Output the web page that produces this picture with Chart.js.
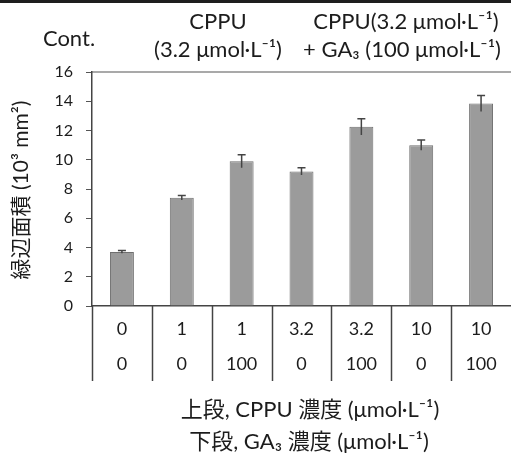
<!DOCTYPE html>
<html>
<head>
<meta charset="utf-8">
<script src="https://cdn.jsdelivr.net/npm/chart.js@4.4.1/dist/chart.umd.min.js"></script>
<style>
  html, body { margin: 0; padding: 0; background: #fff; }
  #wrap { width: 511px; height: 455px; }
</style>
</head>
<body>
<div id="wrap"><canvas id="myChart" width="511" height="455"></canvas></div>
<script>
// data
const cppuConc = ['0', '1', '1', '3.2', '3.2', '10', '10'];
const ga3Conc = ['0', '0', '100', '0', '100', '0', '100'];
const areaValues = [3.7, 7.4, 9.9, 9.2, 12.25, 11.0, 13.85];
const areaErrors = [0.1, 0.15, 0.45, 0.25, 0.55, 0.35, 0.55];
const yTicks = [0, 2, 4, 6, 8, 10, 12, 14, 16];

const FONT = "Lato, 'Noto Sans CJK JP', sans-serif";
const INK = '#1c1c1c';

// error bars, table lines and all the loose text
const extras = {
    id: 'extras',
    beforeDraw(chart) {
        const c = chart.ctx;
        c.save();
        c.fillStyle = '#1e1e1e';
        c.fillRect(0, 0, chart.width, 3);
        c.restore();
    },
    afterDatasetsDraw(chart) {
        const c = chart.ctx;
        const y = chart.scales.y;
        const meta = chart.getDatasetMeta(0);
        c.save();
        c.strokeStyle = '#444';
        c.lineWidth = 1.5;
        meta.data.forEach((bar, i) => {
            const top = y.getPixelForValue(areaValues[i] + areaErrors[i]);
            const bot = y.getPixelForValue(areaValues[i] - areaErrors[i]);
            c.beginPath();
            c.moveTo(bar.x, top);
            c.lineTo(bar.x, bot);
            c.moveTo(bar.x - 4, top);
            c.lineTo(bar.x + 4, top);
            c.stroke();
        });
        c.restore();
    },
    afterDraw(chart) {
        const c = chart.ctx;
        const area = chart.chartArea;
        const x = chart.scales.x;
        c.save();

        // top frame line
        c.strokeStyle = '#555';
        c.lineWidth = 1.2;
        c.beginPath();
        c.moveTo(area.left, area.top);
        c.lineTo(area.right, area.top);
        c.stroke();

        // vertical lines of the label table
        const half = (x.getPixelForValue(1) - x.getPixelForValue(0)) / 2;
        c.strokeStyle = '#444';
        c.lineWidth = 1.5;
        cppuConc.forEach((v, i) => {
            const px = Math.round(x.getPixelForValue(i) - half) + 0.5;
            c.beginPath();
            c.moveTo(px, area.bottom);
            c.lineTo(px, area.bottom + 75);
            c.stroke();
        });

        c.fillStyle = INK;
        c.textAlign = 'center';
        c.textBaseline = 'middle';

        // headers
        c.font = '22px ' + FONT;
        c.fillText('Cont.', 69, 39);
        c.fillText('CPPU', 218, 22);
        c.fillText('(3.2 \u03bcmol\u00b7L\u207b\u00b9)', 218, 50);
        c.fillText('CPPU(3.2 \u03bcmol\u00b7L\u207b\u00b9)', 406, 22);
        c.fillText('+ GA\u2083 (100 \u03bcmol\u00b7L\u207b\u00b9)', 402, 50);

        // x title
        c.font = '22px ' + FONT;
        c.fillText('上段, CPPU 濃度 (\u03bcmol\u00b7L\u207b\u00b9)', 310, 410);
        c.fillText('下段, GA\u2083 濃度 (\u03bcmol\u00b7L\u207b\u00b9)', 309, 442);

        // y title
        c.translate(21, 190);
        c.rotate(-Math.PI / 2);
        c.font = '21px ' + FONT;
        c.fillText('緑辺面積 (10\u00b3 mm\u00b2)', 0, 0);
        c.restore();
    }
};

const ctx = document.getElementById('myChart');

new Chart(ctx, {
    type: 'bar',
    data: {
        labels: cppuConc.map((v, i) => [v, ga3Conc[i]]),
        datasets: [{
            data: areaValues,
            backgroundColor: '#9b9b9b',
            borderColor: '#6f6f6f',
            borderWidth: 1,
            barPercentage: 0.4,
            categoryPercentage: 1
        }]
    },
    options: {
        responsive: false,
        animation: false,
        layout: {
            padding: { top: 72, right: 0, bottom: 0, left: 0 }
        },
        plugins: {
            legend: { display: false },
            tooltip: { enabled: false }
        },
        scales: {
            x: {
                grid: { display: false, drawTicks: false },
                border: { display: true, color: '#444', width: 1.5 },
                ticks: {
                    color: INK,
                    padding: 6,
                    font: { family: FONT, size: 18, lineHeight: 35 / 18 },
                    maxRotation: 0
                },
                afterFit(scale) { scale.height = 149; }
            },
            y: {
                min: 0,
                max: 16,
                afterBuildTicks(scale) {
                    scale.ticks = yTicks.map(v => ({ value: v }));
                },
                grid: {
                    drawOnChartArea: false,
                    drawTicks: true,
                    tickLength: 6,
                    color: '#555'
                },
                border: { display: true, color: '#444', width: 1.5 },
                ticks: {
                    color: INK,
                    padding: 13,
                    font: { family: FONT, size: 16 }
                },
                afterFit(scale) { scale.width = 92; }
            }
        }
    },
    plugins: [extras]
});
</script>
</body>
</html>
